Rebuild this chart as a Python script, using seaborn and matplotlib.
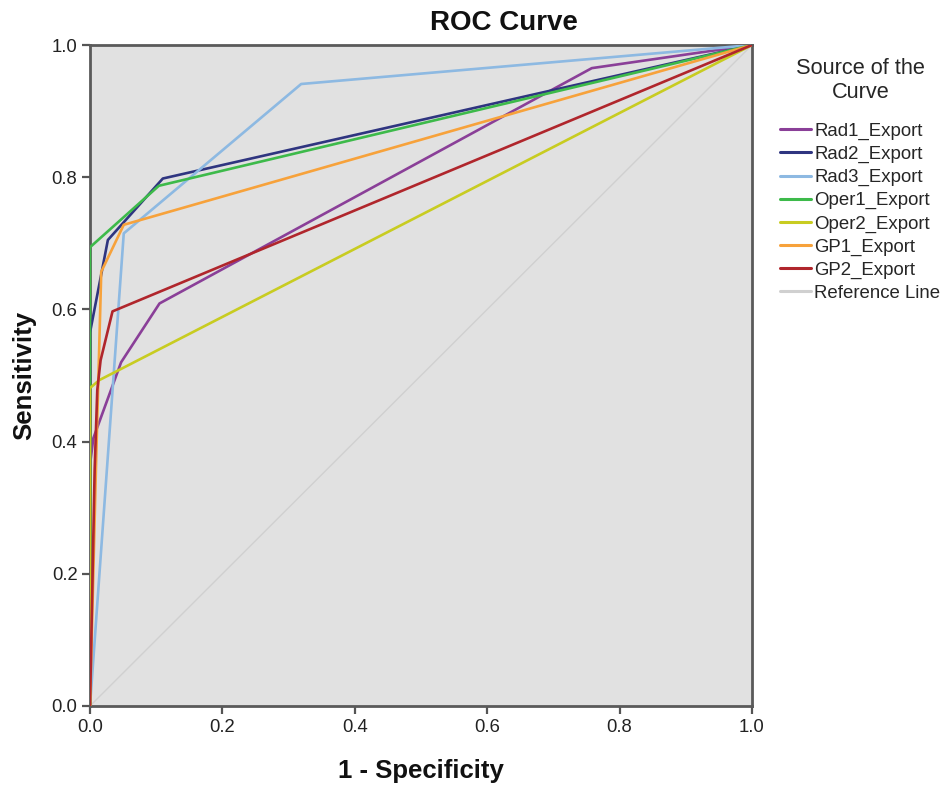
import matplotlib
matplotlib.use("Agg")
import matplotlib.pyplot as plt
import seaborn as sns
import pandas as pd

# ---- data ----
series_names = ["Rad1_Export", "Rad2_Export", "Rad3_Export", "Oper1_Export",
                "Oper2_Export", "GP1_Export", "GP2_Export", "Reference Line"]

rad1_fpr = [0.0, 0.0, 0.005, 0.047, 0.105, 0.758, 1.0]
rad1_sens = [0.0, 0.365, 0.405, 0.520, 0.609, 0.965, 1.0]

rad2_fpr = [0.0, 0.0, 0.027, 0.110, 1.0]
rad2_sens = [0.0, 0.565, 0.705, 0.798, 1.0]

rad3_fpr = [0.0, 0.051, 0.319, 1.0]
rad3_sens = [0.0, 0.715, 0.941, 1.0]

oper1_fpr = [0.0, 0.0, 0.104, 1.0]
oper1_sens = [0.0, 0.694, 0.787, 1.0]

oper2_fpr = [0.0, 0.0, 0.014, 1.0]
oper2_sens = [0.0, 0.481, 0.493, 1.0]

gp1_fpr = [0.0, 0.009, 0.017, 0.051, 1.0]
gp1_sens = [0.0, 0.360, 0.657, 0.728, 1.0]

gp2_fpr = [0.0, 0.007, 0.011, 0.016, 0.034, 1.0]
gp2_sens = [0.0, 0.357, 0.478, 0.523, 0.597, 1.0]

ref_fpr = [0.0, 1.0]
ref_sens = [0.0, 1.0]

colors = ["#8A3F98", "#2F3580", "#8DB9E2", "#3DBA4A",
          "#C8CC21", "#F7A23B", "#B0262C", "#D0D0D0"]

tick_vals = [0.0, 0.2, 0.4, 0.6, 0.8, 1.0]
tick_labels = ["0.0", "0.2", "0.4", "0.6", "0.8", "1.0"]

all_fpr = [rad1_fpr, rad2_fpr, rad3_fpr, oper1_fpr, oper2_fpr, gp1_fpr, gp2_fpr, ref_fpr]
all_sens = [rad1_sens, rad2_sens, rad3_sens, oper1_sens, oper2_sens, gp1_sens, gp2_sens, ref_sens]

rows = []
for name, xs, ys in zip(series_names, all_fpr, all_sens):
    for i, (x, y) in enumerate(zip(xs, ys)):
        rows.append({"Source": name, "fpr": x, "sens": y, "order": i})
df = pd.DataFrame(rows)

# ---- plot ----
sns.set_style("white")
plt.rcParams["font.family"] = ["Liberation Sans", "DejaVu Sans"]

fig = plt.figure(figsize=(9.51, 7.89), dpi=100)
ax = fig.add_axes([90 / 951, 1 - 706 / 789, 662 / 951, 661 / 789])
ax.set_facecolor("#E1E1E1")

sns.lineplot(data=df, x="fpr", y="sens", hue="Source", hue_order=series_names,
             palette=dict(zip(series_names, colors)), sort=False, estimator=None,
             linewidth=1.9, ax=ax)

lines = ax.get_lines()
for ln in lines[:7]:
    ln.set_zorder(3)
lines[7].set_linewidth(1.0)
lines[7].set_zorder(1.5)

ax.set_xlim(0, 1)
ax.set_ylim(0, 1)
ax.set_xticks(tick_vals)
ax.set_xticklabels(tick_labels)
ax.set_yticks(tick_vals)
ax.set_yticklabels(tick_labels)
ax.tick_params(axis="both", direction="out", length=6, width=1.6, color="#555555",
               labelsize=13.3, labelcolor="#222222", pad=3)
ax.tick_params(axis="both", which="both", bottom=True, left=True, top=False, right=False)
for sp in ax.spines.values():
    sp.set_color("#5A5A5A")
    sp.set_linewidth(2.0)

ax.set_xlabel("1 - Specificity", fontsize=18.5, fontweight="bold", color="#111111")
ax.set_ylabel("Sensitivity", fontsize=18.5, fontweight="bold", color="#111111")
ax.xaxis.set_label_coords(0.5, -65 / 661)
ax.xaxis.label.set_va("center")
ax.yaxis.set_label_coords(-66 / 662, 0.5)
ax.yaxis.label.set_va("center")

fig.text(504 / 951, 1 - 23 / 789, "ROC Curve", ha="center", va="center",
         fontsize=20, fontweight="bold", color="#111111")

handles, labels = ax.get_legend_handles_labels()
if ax.get_legend():
    ax.get_legend().remove()
for h in handles:
    h.set_linewidth(2.2)
leg = fig.legend(handles, labels, loc="upper left",
                 bbox_to_anchor=(780 / 951, 1 - 58 / 789),
                 title="Source of the\nCurve", frameon=False,
                 fontsize=13.4, title_fontsize=15.7,
                 handlelength=1.65, handletextpad=0.2, labelspacing=0.32,
                 borderpad=0.0, borderaxespad=0.0)
leg.get_title().set_multialignment("center")
leg._legend_box.sep = 14

fig.savefig("out.png", dpi=100)
